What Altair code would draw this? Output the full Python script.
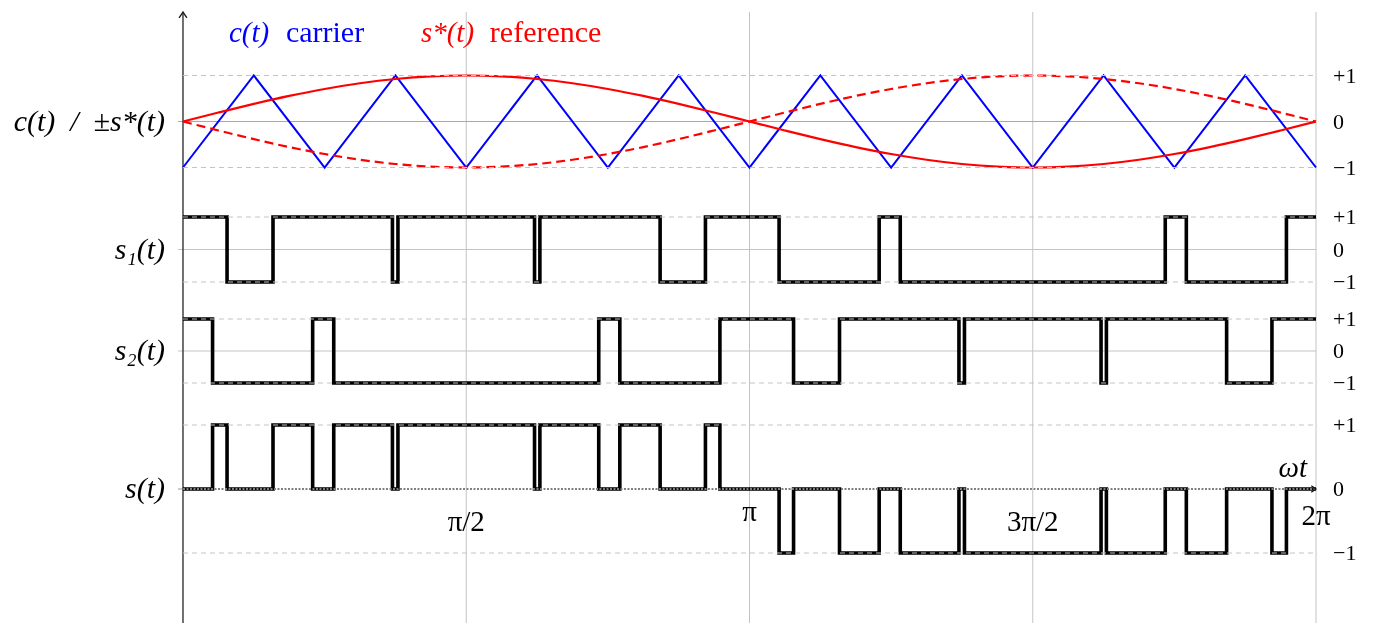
import altair as alt
import pandas as pd

# ---------------- data (angles in degrees of wt) ----------------
carrier_t = [0, 22.5, 45, 67.5, 90, 112.5, 135, 157.5, 180, 202.5, 225, 247.5, 270, 292.5, 315, 337.5, 360]
carrier_v = [-1, 1, -1, 1, -1, 1, -1, 1, -1, 1, -1, 1, -1, 1, -1, 1, -1]

ref_t = [0, 11.25, 22.5, 33.75, 45, 56.25, 67.5, 78.75, 90, 101.25, 112.5, 123.75, 135, 146.25, 157.5, 168.75,
         180, 191.25, 202.5, 213.75, 225, 236.25, 247.5, 258.75, 270, 281.25, 292.5, 303.75, 315, 326.25, 337.5,
         348.75, 360]
ref_v = [0, 0.195, 0.383, 0.556, 0.707, 0.831, 0.924, 0.981, 1, 0.981, 0.924, 0.831, 0.707, 0.556, 0.383, 0.195,
         0, -0.195, -0.383, -0.556, -0.707, -0.831, -0.924, -0.981, -1, -0.981, -0.924, -0.831, -0.707, -0.556,
         -0.383, -0.195, 0]
neg_ref_v = [0, -0.195, -0.383, -0.556, -0.707, -0.831, -0.924, -0.981, -1, -0.981, -0.924, -0.831, -0.707, -0.556,
             -0.383, -0.195, 0, 0.195, 0.383, 0.556, 0.707, 0.831, 0.924, 0.981, 1, 0.981, 0.924, 0.831, 0.707,
             0.556, 0.383, 0.195, 0]

s1_t = [0, 14.0, 28.6, 66.55, 68.3, 111.7, 113.4, 151.6, 166.0, 189.4, 221.2, 227.9, 312.1, 318.8, 350.6, 360]
s1_v = [1, -1, 1, -1, 1, -1, 1, -1, 1, -1, 1, -1, 1, -1, 1, 1]

s2_t = [0, 9.4, 41.2, 47.9, 132.1, 138.8, 170.6, 194.0, 208.6, 246.55, 248.3, 291.7, 293.4, 331.6, 346.0, 360]
s2_v = [1, -1, 1, -1, 1, -1, 1, -1, 1, -1, 1, -1, 1, -1, 1, 1]

s_t = [0, 9.4, 14.0, 28.6, 41.2, 47.9, 66.55, 68.3, 111.7, 113.4, 132.1, 138.8, 151.6, 166.0, 170.6, 189.4,
       194.0, 208.6, 221.2, 227.9, 246.55, 248.3, 291.7, 293.4, 312.1, 318.8, 331.6, 346.0, 350.6, 360]
s_v = [0, 1, 0, 1, 0, 1, 0, 1, 0, 1, 0, 1, 0, 1, 0, -1, 0, -1, 0, -1, 0, -1, 0, -1, 0, -1, 0, -1, 0, 0]

levels = [1, 0, -1]
level_labels = ["+1", "0", "\u22121"]
panel_keys = ["top", "s1", "s2", "s"]
panel_names = ["c(t)\u2002/\u2002\u00b1s*(t)", "s\u2081(t)", "s\u2082(t)", "s(t)"]
x_ticks = [90, 180, 270, 360]
x_tick_labels = ["\u03c0/2", "\u03c0", "3\u03c0/2", "2\u03c0"]

# ---------------- layout ----------------
W, H = 1360, 607
X_DOMAIN = [-55.6, 376.52]
Y_DOMAIN = [8, 615]
PANELS = {"top": (121.5, 46.0), "s1": (249.5, 32.5), "s2": (351.0, 32.0), "s": (489.0, 64.0)}
TOP_ROW, BOTTOM_ROW = 12, 623
LEFT_TICK = -1.6
RIGHT_LABEL_X = 365.4
LEFT_LABEL_X = -5.7
FONT = "Liberation Serif"


def row(panel, v):
    c, g = PANELS[panel]
    return c - g * v


X = alt.X("t:Q", scale=alt.Scale(domain=X_DOMAIN, nice=False, zero=False), axis=None)
Y = alt.Y("y:Q", scale=alt.Scale(domain=Y_DOMAIN, reverse=True, nice=False, zero=False), axis=None)


def series_df(ts, vs, panel, name):
    return pd.DataFrame({"t": ts, "y": [row(panel, v) for v in vs], "series": name, "i": list(range(len(ts)))})


# vertical grid lines
vgrid_df = pd.DataFrame({"t": x_ticks, "y": TOP_ROW, "y2": BOTTOM_ROW})
vgrid = alt.Chart(vgrid_df).mark_rule(color="#c4c4c4", strokeWidth=1).encode(x=X, y=Y, y2="y2:Q")

# zero lines
zero_rows = []
for p in ["top", "s1", "s2"]:
    zero_rows.append({"t": LEFT_TICK, "t2": 360, "y": row(p, 0), "panel": p})
zero_df = pd.DataFrame(zero_rows)
zero_top = alt.Chart(zero_df[zero_df.panel == "top"]).mark_rule(color="#a8a8a8", strokeWidth=1.2).encode(
    x=X, x2="t2:Q", y=Y)
zero_s = alt.Chart(zero_df[zero_df.panel != "top"]).mark_rule(color="#c4c4c4", strokeWidth=1).encode(
    x=X, x2="t2:Q", y=Y)
tick_s = alt.Chart(pd.DataFrame({"t": [LEFT_TICK], "t2": [0], "y": [row("s", 0)]})).mark_rule(
    color="#999999", strokeWidth=1).encode(x=X, x2="t2:Q", y=Y)

# left axis
yaxis = alt.Chart(pd.DataFrame({"t": [0], "y": [TOP_ROW], "y2": [BOTTOM_ROW]})).mark_rule(
    color="#333333", strokeWidth=1.4).encode(x=X, y=Y, y2="y2:Q")

# carrier and references
carrier = alt.Chart(series_df(carrier_t, carrier_v, "top", "c")).mark_line(
    color="#0000ff", strokeWidth=2, strokeJoin="miter").encode(x=X, y=Y, order="i:Q")
ref = alt.Chart(series_df(ref_t, ref_v, "top", "s*")).mark_line(
    color="#ff0000", strokeWidth=2.2, interpolate="monotone").encode(x=X, y=Y, order="i:Q")
neg_ref = alt.Chart(series_df(ref_t, neg_ref_v, "top", "-s*")).mark_line(
    color="#ff0000", strokeWidth=2.2, interpolate="monotone", strokeDash=[9, 5]).encode(x=X, y=Y, order="i:Q")

# switching signals
steps_df = pd.concat([
    series_df(s1_t, s1_v, "s1", "s1"),
    series_df(s2_t, s2_v, "s2", "s2"),
    series_df(s_t, s_v, "s", "s"),
])
steps = alt.Chart(steps_df).mark_line(
    color="black", strokeWidth=3.6, interpolate="step-after", strokeJoin="miter").encode(
    x=X, y=Y, detail="series:N", order="i:Q")

# dashed +-1 grid lines
hg_rows = []
for p in panel_keys:
    for v in [1, -1]:
        hg_rows.append({"t": 0, "t2": 360, "y": row(p, v)})
hgrid = alt.Chart(pd.DataFrame(hg_rows)).mark_rule(
    color="#c4c4c4", strokeWidth=1, strokeDash=[5, 4]).encode(x=X, x2="t2:Q", y=Y)

# wt axis of s(t)
waxis = alt.Chart(pd.DataFrame({"t": [0], "t2": [360], "y": [row("s", 0)]})).mark_rule(
    color="white", strokeWidth=1, strokeDash=[2, 1.5], blend="difference").encode(x=X, x2="t2:Q", y=Y)

# arrow heads
up_arrow = alt.Chart(pd.DataFrame({"t": [0], "y": [TOP_ROW]})).mark_point(
    shape="M-0.6,0.9L0,0L0.6,0.9", filled=False, size=170, strokeWidth=1.4, color="#222222", opacity=1).encode(
    x=X, y=Y)
right_arrow = alt.Chart(pd.DataFrame({"t": [360], "y": [row("s", 0)]})).mark_point(
    shape="M-0.9,-0.6L0,0L-0.9,0.6", filled=False, size=110, strokeWidth=1.2, color="#111111", opacity=1).encode(
    x=X, y=Y)

# right level labels
rl_rows = []
for p in panel_keys:
    for v, lab in zip(levels, level_labels):
        rl_rows.append({"t": RIGHT_LABEL_X, "y": row(p, v), "label": lab})
right_labels = alt.Chart(pd.DataFrame(rl_rows)).mark_text(
    align="left", baseline="middle", font=FONT, fontSize=22, color="black").encode(x=X, y=Y, text="label:N")

# left panel labels
ll_df = pd.DataFrame({"t": LEFT_LABEL_X, "y": [row(p, 0) for p in panel_keys], "label": panel_names})
left_labels = alt.Chart(ll_df).mark_text(
    align="right", baseline="middle", font=FONT, fontSize=30, fontStyle="italic", color="black").encode(
    x=X, y=Y, text="label:N")

# x tick labels
xt_df = pd.DataFrame({"t": x_ticks, "y": [522, 512, 522, 516], "label": x_tick_labels})
xt_labels = alt.Chart(xt_df).mark_text(
    align="center", baseline="middle", font=FONT, fontSize=29, color="black").encode(x=X, y=Y, text="label:N")

wt_label = alt.Chart(pd.DataFrame({"t": [352.6], "y": [468], "label": ["\u03c9t"]})).mark_text(
    align="center", baseline="middle", font=FONT, fontSize=29, fontStyle="italic", color="black").encode(
    x=X, y=Y, text="label:N")

# legend
leg_df = pd.DataFrame({
    "t": [14.6, 32.7, 75.6, 97.5],
    "y": [33, 33, 33, 33],
    "label": ["c(t)", "carrier", "s*(t)", "reference"],
})
leg_it_blue = alt.Chart(leg_df.iloc[[0]]).mark_text(
    align="left", baseline="middle", font=FONT, fontSize=29, fontStyle="italic", color="#0000ff").encode(
    x=X, y=Y, text="label:N")
leg_rm_blue = alt.Chart(leg_df.iloc[[1]]).mark_text(
    align="left", baseline="middle", font=FONT, fontSize=30, color="#0000ff").encode(x=X, y=Y, text="label:N")
leg_it_red = alt.Chart(leg_df.iloc[[2]]).mark_text(
    align="left", baseline="middle", font=FONT, fontSize=29, fontStyle="italic", color="#ff0000").encode(
    x=X, y=Y, text="label:N")
leg_rm_red = alt.Chart(leg_df.iloc[[3]]).mark_text(
    align="left", baseline="middle", font=FONT, fontSize=30, color="#ff0000").encode(x=X, y=Y, text="label:N")

chart = alt.layer(
    vgrid, zero_top, zero_s, tick_s, yaxis,
    carrier, ref, neg_ref, steps, hgrid, waxis,
    up_arrow, right_arrow,
    right_labels, left_labels, xt_labels, wt_label,
    leg_it_blue, leg_rm_blue, leg_it_red, leg_rm_red,
).properties(
    width=W, height=H,
    autosize=alt.AutoSizeParams(type="none"),
    padding={"left": 0, "top": 0, "right": 0, "bottom": 8},
    background="white",
).configure_view(stroke=None)

chart.save("out.html", embed_options={"renderer": "svg", "actions": False})
